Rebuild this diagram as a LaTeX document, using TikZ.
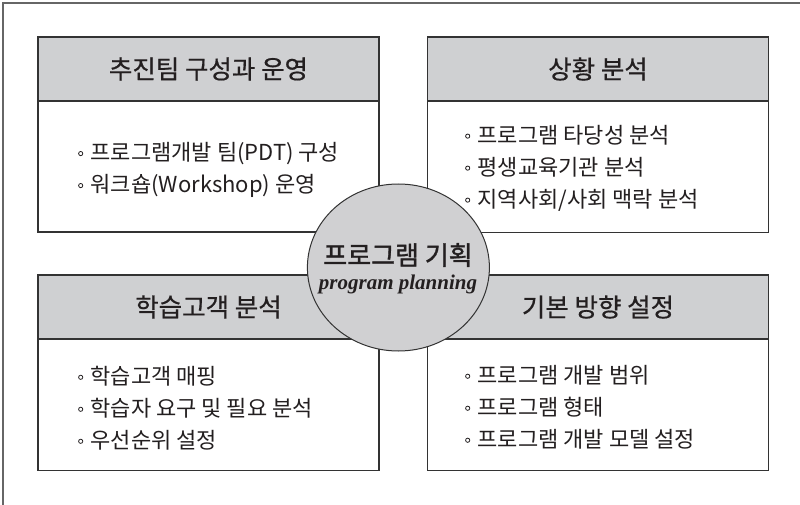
\documentclass[tikz,border=0pt]{standalone}
\usepackage{fontspec}
\usetikzlibrary{shapes.geometric}
\newfontfamily\kr{Noto Sans CJK KR}
\newfontfamily\krh[FakeBold=0.6]{Noto Sans CJK KR}
\newfontfamily\krc[FakeBold=1.4]{Noto Sans CJK KR}
\newfontfamily\lserif{Liberation Serif}
\definecolor{hdrgray}{HTML}{CFD0D2}
\definecolor{circgray}{HTML}{D0D0D2}
\definecolor{linegray}{HTML}{333333}
\definecolor{txt}{HTML}{231F20}
\newcommand{\bul}{\tikz[baseline=-7pt]\draw[draw=txt, line width=0.8pt] (0pt,0pt) circle (2.1pt);\hspace{7.5pt}}
\tikzset{
  hdrbox/.style={draw=linegray, line width=1.3pt, fill=hdrgray, minimum width=341pt, minimum height=64pt, inner sep=0pt, text=txt, font=\krh\fontsize{25.5}{25.5}\selectfont},
  bodybox/.style={draw=linegray, line width=1.3pt, fill=white, minimum width=341pt, minimum height=131pt, inner sep=0pt},
  bodytext/.style={anchor=west, align=left, inner sep=0pt, text=txt, font=\kr\fontsize{22}{32}\selectfont},
  centre/.style={ellipse, draw=linegray, line width=1pt, fill=circgray, minimum width=182pt, minimum height=167pt, inner sep=0pt}
}
\begin{document}
\begin{tikzpicture}[x=1pt, y=-1pt]
\useasboundingbox (0,0) rectangle (800,505);
\fill[white] (0,0) rectangle (800,505);
\draw[gray!80!black, line width=1.6pt] (3,505) -- (3,3) -- (800,3);

% top left
\node[bodybox] (b1) at (208.5,166.5) {};
\node[hdrbox] (h1) at (208.5,69) {추진팀 구성과 운영};
\node[bodytext] (t1) at (78,170) {\bul 프로그램개발 팀(PDT) 구성\\\bul 워크숍(Workshop) 운영};

% top right
\node[bodybox] (b2) at (598,167) {};
\node[hdrbox] (h2) at (598,69) {상황 분석};
\node[bodytext] (t2) at (465,168) {\bul 프로그램 타당성 분석\\\bul 평생교육기관 분석\\\bul 지역사회/사회 맥락 분석};

% bottom left
\node[bodybox] (b3) at (208.5,405) {};
\node[hdrbox] (h3) at (208.5,307) {학습고객 분석};
\node[bodytext] (t3) at (78,408) {\bul 학습고객 매핑\\\bul 학습자 요구 및 필요 분석\\\bul 우선순위 설정};

% bottom right
\node[bodybox] (b4) at (598,405) {};
\node[hdrbox] (h4) at (598,307) {기본 방향 설정};
\node[bodytext] (t4) at (465,407) {\bul 프로그램 개발 범위\\\bul 프로그램 형태\\\bul 프로그램 개발 모델 설정};

% centre
\node[centre] (c) at (398.4,267.5) {};
\node[text=txt, inner sep=0pt, font=\krc\fontsize{26}{26}\selectfont] (ck) at (398,255) {프로그램 기획};
\node[text=txt, inner sep=0pt, font=\lserif\bfseries\itshape\fontsize{21}{21}\selectfont] (ce) at (398,284) {program planning};
\end{tikzpicture}
\end{document}
